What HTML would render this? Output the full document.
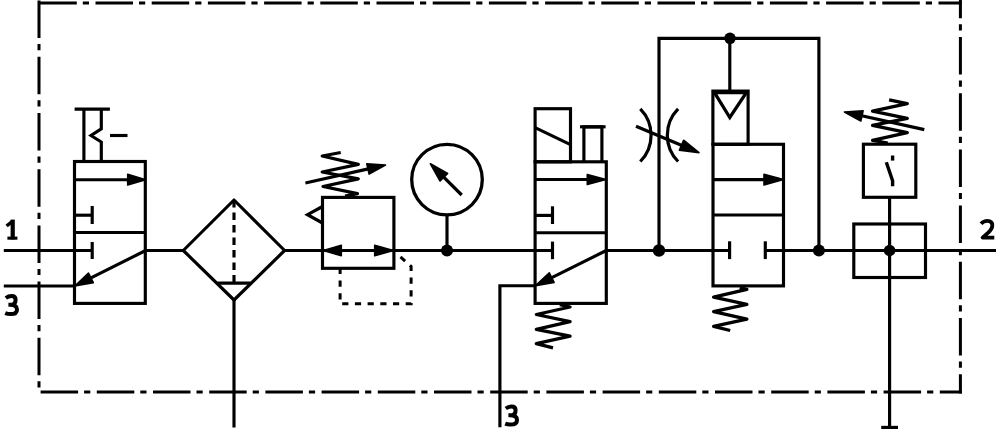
<!DOCTYPE html>
<html><head><meta charset="utf-8"><style>
html,body{margin:0;padding:0;background:#fff;width:1000px;height:437px;overflow:hidden}
svg{display:block}
text{font-family:"Liberation Sans",sans-serif}
</style></head><body>
<svg width="1000" height="437" viewBox="0 0 1000 437">
<g stroke="#000" stroke-linecap="butt" stroke-linejoin="miter" fill="none">
<line x1="39.3" y1="2.9" x2="961.9" y2="2.9" stroke-width="3.0" stroke-dasharray="37.5 6 6.2 6.5" stroke-dashoffset="0"/>
<line x1="40.6" y1="392" x2="961.9" y2="392" stroke-width="3.0" stroke-dasharray="37.5 6 6.2 6.5" stroke-dashoffset="0"/>
<line x1="39" y1="0.6" x2="39" y2="393" stroke-width="3.0" stroke-dasharray="37.5 6 6.2 6.5" stroke-dashoffset="0"/>
<line x1="960.4" y1="-19.2" x2="960.4" y2="393.5" stroke-width="3.0" stroke-dasharray="37.5 6 6.2 6.5" stroke-dashoffset="0"/>
<line x1="3.80" y1="250.50" x2="92.20" y2="250.50" stroke-width="3.15" />
<line x1="145.70" y1="250.50" x2="183.30" y2="250.50" stroke-width="3.15" />
<line x1="284.60" y1="250.50" x2="322.50" y2="250.50" stroke-width="3.15" />
<line x1="322.50" y1="250.50" x2="552.50" y2="250.50" stroke-width="3.15" />
<line x1="606.30" y1="250.50" x2="729.60" y2="250.50" stroke-width="3.15" />
<line x1="765.30" y1="250.50" x2="996.00" y2="250.50" stroke-width="3.15" />
<line x1="74.60" y1="109.10" x2="109.90" y2="109.10" stroke-width="3.15" />
<line x1="83.90" y1="109.10" x2="83.90" y2="161.50" stroke-width="3.15" />
<polyline points="101.30,109.10 101.30,128.80 91.00,135.50 101.30,142.00 101.30,161.50" stroke-width="3.15" fill="none" />
<line x1="110.00" y1="135.50" x2="127.50" y2="135.50" stroke-width="3.15" />
<rect x="74.50" y="161.50" width="70.80" height="141.90" stroke-width="3.15" fill="none"/>
<line x1="74.50" y1="232.50" x2="145.30" y2="232.50" stroke-width="3.15" />
<line x1="74.30" y1="179.70" x2="134.90" y2="179.70" stroke-width="3.15" />
<polygon points="145.70,179.70 127.70,185.05 127.70,174.34" fill="#000" stroke="#000" stroke-width="1.6" stroke-linejoin="round"/>
<line x1="74.30" y1="215.20" x2="92.20" y2="215.20" stroke-width="3.15" />
<line x1="92.20" y1="206.00" x2="92.20" y2="224.00" stroke-width="3.15" />
<line x1="92.20" y1="242.00" x2="92.20" y2="259.00" stroke-width="3.15" />
<line x1="145.70" y1="250.50" x2="84.46" y2="281.16" stroke-width="3.15" />
<polygon points="74.80,286.00 88.50,273.15 93.29,282.73" fill="#000" stroke="#000" stroke-width="1.6" stroke-linejoin="round"/>
<line x1="3.80" y1="286.00" x2="74.30" y2="286.00" stroke-width="3.15" />
<polygon points="234.00,200.00 284.60,250.50 234.00,300.00 183.30,250.50" stroke-width="3.15" fill="none" stroke-linejoin="round"/>
<line x1="234.00" y1="200.00" x2="234.00" y2="283.00" stroke-width="3.15" stroke-dasharray="7.5 5"/>
<line x1="217.40" y1="283.10" x2="250.70" y2="283.10" stroke-width="3.15" />
<line x1="234.00" y1="300.00" x2="234.00" y2="427.50" stroke-width="3.15" />
<rect x="322.50" y="197.40" width="71.40" height="70.90" stroke-width="3.15" fill="none"/>
<polygon points="323.30,250.50 341.30,245.23 341.30,255.77" fill="#000" stroke="#000" stroke-width="1.6" stroke-linejoin="round"/>
<polygon points="393.40,250.50 374.70,255.77 374.70,245.23" fill="#000" stroke="#000" stroke-width="1.6" stroke-linejoin="round"/>
<polyline points="322.50,206.50 307.50,214.70 322.50,223.00" stroke-width="3.15" fill="none" />
<polyline points="340.70,152.50 322.20,156.00 358.30,164.40 322.20,172.00 358.30,178.80 323.00,186.50 357.50,193.70 345.00,196.00" stroke-width="3.3" fill="none" stroke-linejoin="round"/>
<line x1="305.40" y1="183.00" x2="374.96" y2="167.37" stroke-width="3.15" />
<polygon points="385.50,165.00 369.09,174.09 366.78,163.80" fill="#000" stroke="#000" stroke-width="1.6" stroke-linejoin="round"/>
<path d="M340.1,268.3 V303.8 H411.1 V266.5 L399.5,256" stroke-width="3" fill="none" stroke-dasharray="6.2 6.5" stroke-dashoffset="0.5"/>
<circle cx="447" cy="179.6" r="35.3" stroke-width="3.3" fill="none"/>
<line x1="447.00" y1="214.70" x2="447.00" y2="250.50" stroke-width="3.15" />
<circle cx="447.00" cy="250.50" r="6.00" fill="#000" stroke="none"/>
<line x1="461.70" y1="195.00" x2="438.47" y2="171.85" stroke-width="3.2" />
<polygon points="430.40,163.80 447.64,173.42 440.08,181.01" fill="#000" stroke="#000" stroke-width="1.6" stroke-linejoin="round"/>
<rect x="535.10" y="108.70" width="35.40" height="53.10" stroke-width="3.15" fill="none"/>
<line x1="535.10" y1="127.60" x2="570.50" y2="144.60" stroke-width="3.15" />
<polyline points="583.90,161.80 583.90,126.80 601.90,126.80 601.90,161.80" stroke-width="3.15" fill="none" />
<line x1="580.00" y1="126.80" x2="605.60" y2="126.80" stroke-width="3.15" />
<rect x="535.10" y="161.80" width="71.20" height="141.60" stroke-width="3.15" fill="none"/>
<line x1="535.10" y1="232.70" x2="606.30" y2="232.70" stroke-width="3.15" />
<line x1="535.10" y1="179.50" x2="594.78" y2="179.50" stroke-width="3.15" />
<polygon points="606.00,179.50 587.30,184.43 587.30,174.57" fill="#000" stroke="#000" stroke-width="1.6" stroke-linejoin="round"/>
<line x1="535.10" y1="215.40" x2="552.50" y2="215.40" stroke-width="3.15" />
<line x1="552.50" y1="206.30" x2="552.50" y2="224.00" stroke-width="3.15" />
<line x1="552.50" y1="241.60" x2="552.50" y2="259.20" stroke-width="3.15" />
<line x1="606.30" y1="250.50" x2="545.27" y2="280.89" stroke-width="3.15" />
<polygon points="535.60,285.70 549.33,272.88 554.10,282.47" fill="#000" stroke="#000" stroke-width="1.6" stroke-linejoin="round"/>
<polyline points="535.10,285.70 499.90,285.70 499.90,427.20" stroke-width="3.15" fill="none" />
<polyline points="559.80,304.60 570.10,307.00 536.30,314.50 570.10,321.70 536.30,329.30 570.10,336.20 536.30,343.70 553.00,347.80" stroke-width="3.3" fill="none" stroke-linejoin="round"/>
<polyline points="659.00,250.50 659.00,38.30 818.90,38.30 818.90,250.50" stroke-width="3.15" fill="none" />
<circle cx="730.00" cy="38.30" r="5.80" fill="#000" stroke="none"/>
<line x1="729.80" y1="38.30" x2="729.80" y2="91.10" stroke-width="3.15" />
<rect x="712.90" y="91.10" width="35.20" height="53.20" stroke-width="3.15" fill="none"/>
<polygon points="714.50,92.60 746.30,92.60 729.80,117.50" stroke-width="3.3" fill="none" />
<rect x="713.00" y="144.30" width="70.50" height="141.60" stroke-width="3.15" fill="none"/>
<line x1="713.00" y1="215.00" x2="783.50" y2="215.00" stroke-width="3.15" />
<line x1="713.00" y1="179.60" x2="771.80" y2="179.60" stroke-width="3.15" />
<polygon points="783.50,179.60 764.00,184.95 764.00,174.25" fill="#000" stroke="#000" stroke-width="1.6" stroke-linejoin="round"/>
<line x1="729.60" y1="241.30" x2="729.60" y2="259.10" stroke-width="3.15" />
<line x1="765.30" y1="241.30" x2="765.30" y2="259.10" stroke-width="3.15" />
<circle cx="659.00" cy="250.50" r="6.20" fill="#000" stroke="none"/>
<circle cx="818.90" cy="250.50" r="6.00" fill="#000" stroke="none"/>
<polyline points="739.80,287.50 746.90,289.30 713.60,297.10 746.90,304.40 713.60,311.60 746.90,319.10 713.60,326.40 730.20,330.50" stroke-width="3.3" fill="none" stroke-linejoin="round"/>
<path d="M640.3,108.8 A37.6,37.6 0 0 1 640.3,161.5" stroke-width="3.2" fill="none"/>
<path d="M678.1,108.8 A37.6,37.6 0 0 0 678.1,161.5" stroke-width="3.2" fill="none"/>
<line x1="636.00" y1="126.20" x2="688.49" y2="148.19" stroke-width="3.2" />
<polygon points="699.00,152.60 679.37,150.27 683.58,140.24" fill="#000" stroke="#000" stroke-width="1.6" stroke-linejoin="round"/>
<rect x="853.80" y="224.00" width="71.70" height="53.50" stroke-width="3.15" fill="none"/>
<line x1="889.60" y1="197.20" x2="889.60" y2="427.40" stroke-width="3.15" />
<line x1="881.20" y1="427.40" x2="898.00" y2="427.40" stroke-width="3.15" />
<circle cx="889.60" cy="250.50" r="5.80" fill="#000" stroke="none"/>
<rect x="863.40" y="144.20" width="52.40" height="53.10" stroke-width="3.15" fill="none"/>
<line x1="892.60" y1="155.50" x2="892.60" y2="160.60" stroke-width="3.4" />
<polyline points="886.30,162.20 892.60,180.70 892.60,186.30" stroke-width="3.4" fill="none" />
<polyline points="889.10,99.80 907.30,103.60 872.50,111.10 907.30,118.30 872.50,125.40 907.30,132.70 872.50,140.30 887.80,143.00" stroke-width="3.3" fill="none" stroke-linejoin="round"/>
<line x1="924.30" y1="129.60" x2="854.95" y2="114.32" stroke-width="3.15" />
<polygon points="844.40,112.00 863.11,110.73 860.84,121.02" fill="#000" stroke="#000" stroke-width="1.6" stroke-linejoin="round"/>
<rect x="10.6" y="219.6" width="4.2" height="19.8" fill="#000" stroke="none"/>
<rect x="7.4" y="236.6" width="10" height="3.1" fill="#000" stroke="none"/>
<path d="M6.6,226 L12.4,221.3" stroke-width="3.5" stroke="#000" fill="none" stroke-linecap="butt" stroke-linejoin="round" stroke-linecap="round"/>
<path d="M5.8,298 Q8.4,296.1 11.6,296.1 Q15.6,296.1 15.6,299.9 Q15.6,304.8 10,304.8 H8.4 M10,304.8 Q17,304.8 17,309.4 Q17,314.1 10.8,314.1 Q7.6,314.1 5.2,313.1" stroke-width="4" stroke="#000" fill="none" stroke-linecap="butt" stroke-linejoin="round"/>
<path transform="translate(500,110.5)" d="M5.8,298 Q8.4,296.1 11.6,296.1 Q15.6,296.1 15.6,299.9 Q15.6,304.8 10,304.8 H8.4 M10,304.8 Q17,304.8 17,309.4 Q17,314.1 10.8,314.1 Q7.6,314.1 5.2,313.1" stroke-width="4" stroke="#000" fill="none" stroke-linecap="butt" stroke-linejoin="round"/>
<path d="M981,223.8 Q983.6,220.8 987.4,220.8 Q992.3,220.8 992.3,225.4 Q992.3,228.6 988.2,232.6 L982.6,237.6 H994.3" stroke-width="3.8" stroke="#000" fill="none" stroke-linecap="butt" stroke-linejoin="round"/>
</g></svg></body></html>
